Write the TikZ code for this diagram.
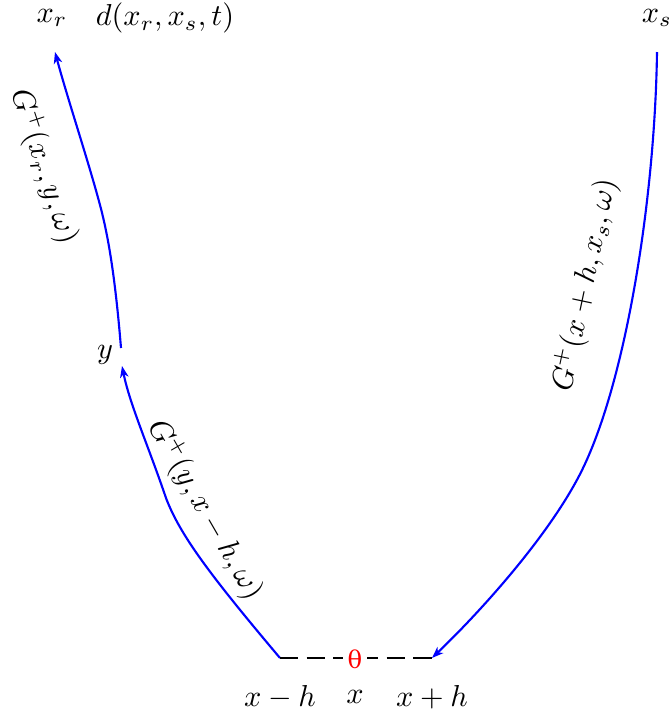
\documentclass[tikz,border=0pt]{standalone}
\usepackage{fontspec}
\newfontfamily\dvs{DejaVu Serif}
\usetikzlibrary{arrows.meta}
\begin{document}
\begin{tikzpicture}[x=0.33pt,y=-0.33pt,
  green/.style={blue,line width=0.7pt},
  tip/.style={-{Stealth[length=3.8pt,width=2.8pt,inset=1.1pt]}},
  lbl/.style={inner sep=1pt}]
\useasboundingbox (0,0) rectangle (672,717);
% points
\coordinate (xr) at (55,52);
\coordinate (ytop) at (121,348);
\coordinate (ybot) at (122,366);
\coordinate (xs) at (657,52);
\coordinate (xmh) at (280,658);
\coordinate (xph) at (432,658);
% labels
\node[lbl] (Lxr) at (52,18) {$x_r$};
\node[lbl] (Ld) at (165,18) {$d(x_r,x_s,t)$};
\node[lbl] (Lxs) at (657,18) {$x_s$};
\node[lbl] (Ly) at (105,355) {$y$};
\node[lbl] (Lxmh) at (280,697) {$x-h$};
\node[lbl] (Lx) at (355,697) {$x$};
\node[lbl] (Lxph) at (432,697) {$x+h$};
% curves
\draw[green,tip] (ytop) .. controls (115,275) and (108,235) .. (100,205)
   .. controls (88,160) and (68,100) .. (xr);
\draw[green,tip] (xmh) .. controls (210,575) and (180,535) .. (166,498)
   .. controls (148,445) and (130,405) .. (ybot);
\draw[green,tip] (xs) .. controls (655,200) and (625,390) .. (578,478)
   .. controls (545,540) and (480,612) .. (xph);
% dashed base
\draw[black,line width=0.9pt,dash pattern=on 6pt off 2.8pt] (xmh) -- (xph);
\node[text=red,fill=white,inner xsep=1.5pt,inner ysep=0pt,font=\dvs\footnotesize] (th) at (355,659) {θ};
% rotated labels
\node[lbl,rotate=-72] (G1) at (44,167) {$G^{+}(x_r,y,\omega)$};
\node[lbl,rotate=-60] (G2) at (205,510) {$G^{+}(y,x-h,\omega)$};
\node[lbl,rotate=78] (G3) at (585,285) {$G^{+}(x+h,x_s,\omega)$};
\end{tikzpicture}
\end{document}
